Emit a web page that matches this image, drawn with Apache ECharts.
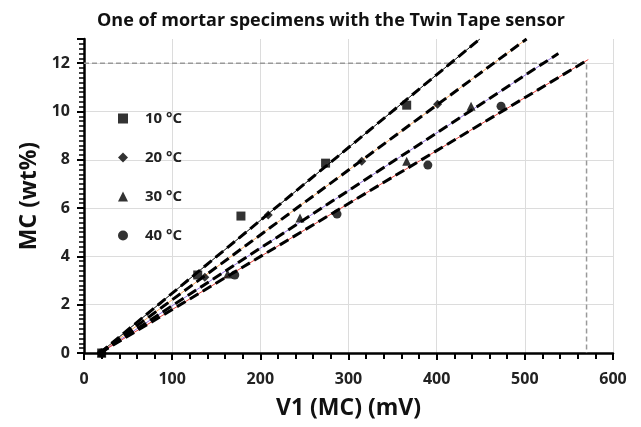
<!DOCTYPE html>
<html>
<head>
<meta charset="utf-8">
<script src="https://cdn.jsdelivr.net/npm/echarts@6/dist/echarts.min.js"></script>
<style>
  html, body { margin: 0; padding: 0; background: #fff; }
  #chart { width: 641px; height: 427px; }
</style>
</head>
<body>
<div id="chart"></div>
<script>
// data
var temps = ['10 °C', '20 °C', '30 °C', '40 °C'];
var symbols = ['rect', 'diamond', 'triangle', 'circle'];
var pts10 = [[20, 0], [129, 3.23], [178, 5.67], [274, 7.86], [366, 10.26]];
var pts20 = [[20, 0], [137, 3.14], [209, 5.71], [315, 7.94], [401, 10.3]];
var pts30 = [[20, 0], [163, 3.27], [245, 5.59], [366, 7.94], [439, 10.22]];
var pts40 = [[20, 0], [171, 3.23], [287, 5.75], [390, 7.78], [473, 10.22]];
var points = [pts10, pts20, pts30, pts40];

// trend lines (start / end)
var fit10 = [[18, 0], [449, 13]];
var fit20 = [[18, 0], [502, 13]];
var fit30 = [[18, 0], [538, 12.4]];
var fit40 = [[18, 0], [572, 12.15]];
var fits = [fit10, fit20, fit30, fit40];
var fitColors = ['#000000', '#f4a460', '#9370db', '#e0403a'];

// reference lines at 12 wt%
var refLine = [[0, 12], [570, 12], [570, 0]];

var chart = echarts.init(document.getElementById('chart'));
var font = 'Open Sans';

var series = [];
fits.forEach(function (f, i) {
    series.push({
        name: 'fit-under-' + i,
        type: 'line',
        data: f,
        symbol: 'none',
        silent: true,
        lineStyle: { color: fitColors[i], width: 1 },
        z: 2
    });
    series.push({
        name: 'fit-' + i,
        type: 'line',
        data: f,
        symbol: 'none',
        silent: true,
        lineStyle: { color: '#000', width: 3, type: [10, 5] },
        z: 3
    });
});
series.push({
    name: 'ref',
    type: 'line',
    data: refLine,
    symbol: 'none',
    silent: true,
    lineStyle: { color: '#999', width: 1.5, type: [5, 3] },
    z: 1
});
points.forEach(function (p, i) {
    series.push({
        name: temps[i],
        type: 'scatter',
        data: p,
        symbol: symbols[i],
        symbolSize: 9,
        itemStyle: { color: '#000' },
        z: 4
    });
});

option = {
    backgroundColor: '#fff',
    animation: false,
    title: {
        text: 'One of mortar specimens with the Twin Tape sensor',
        left: 92,
        top: 7,
        textStyle: { fontFamily: font, fontSize: 18, fontWeight: 'bold', color: '#111' }
    },
    legend: {
        data: temps,
        orient: 'vertical',
        left: 113,
        top: 106,
        itemWidth: 10,
        itemHeight: 10,
        itemGap: 24,
        textStyle: {
            fontFamily: font, fontSize: 15, fontWeight: 'bold', color: '#222',
            padding: [0, 0, 0, 12]
        }
    },
    grid: { left: 84, right: 28, top: 39, bottom: 74 },
    xAxis: {
        type: 'value',
        min: 0,
        max: 600,
        interval: 100,
        name: 'V1 (MC) (mV)',
        nameLocation: 'middle',
        nameGap: 44,
        nameTextStyle: { fontFamily: font, fontSize: 23, fontWeight: 'bold', color: '#111' },
        axisLine: { show: true, lineStyle: { color: '#000', width: 2.5 } },
        axisTick: { show: true, length: 7, lineStyle: { color: '#000', width: 2 } },
        minorTick: { show: true, splitNumber: 5, length: 6, lineStyle: { color: '#000', width: 2 } },
        axisLabel: { margin: 18, fontFamily: font, fontSize: 16, fontWeight: 'bold', color: '#222' },
        splitLine: { show: true, lineStyle: { color: '#dcdcdc', width: 1 } }
    },
    yAxis: {
        type: 'value',
        min: 0,
        max: 13,
        interval: 2,
        name: 'MC (wt%)',
        nameLocation: 'middle',
        nameGap: 42,
        nameTextStyle: { fontFamily: font, fontSize: 23, fontWeight: 'bold', color: '#111' },
        axisLine: { show: true, lineStyle: { color: '#000', width: 2.5 } },
        axisTick: { show: true, length: 7, lineStyle: { color: '#000', width: 2 } },
        minorTick: { show: true, splitNumber: 10, length: 5, lineStyle: { color: '#000', width: 1.5 } },
        axisLabel: {
            margin: 14, fontFamily: font, fontSize: 16, fontWeight: 'bold', color: '#222',
            showMaxLabel: false
        },
        splitLine: { show: true, showMaxLine: false, lineStyle: { color: '#dcdcdc', width: 1 } }
    },
    series: series
};

chart.setOption(option);
</script>
</body>
</html>
